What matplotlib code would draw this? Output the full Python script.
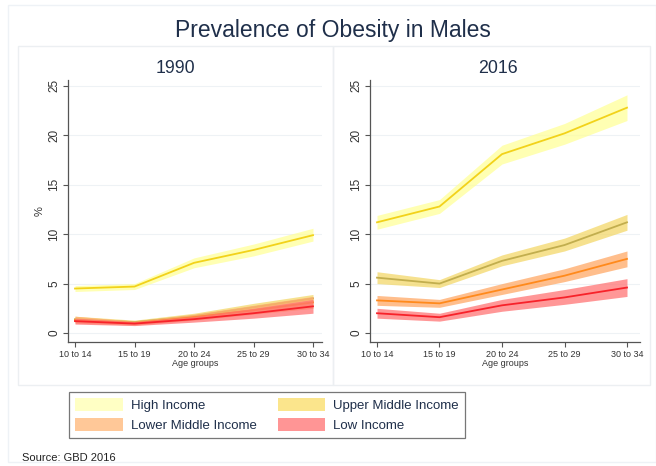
import matplotlib
matplotlib.use("Agg")
import matplotlib.pyplot as plt
from matplotlib.patches import Rectangle, Patch
import numpy as np

plt.rcParams['font.family'] = ['Liberation Sans', 'DejaVu Sans']

age_groups = ["10 to 14", "15 to 19", "20 to 24", "25 to 29", "30 to 34"]
series_names = ["High Income", "Upper Middle Income", "Lower Middle Income", "Low Income"]

# 1990 estimates and uncertainty bounds
high_1990 = [4.5, 4.7, 7.1, 8.4, 9.9]
high_1990_lo = [4.2, 4.4, 6.6, 7.8, 9.3]
high_1990_hi = [4.8, 5.0, 7.6, 9.0, 10.6]
upper_1990 = [1.4, 1.1, 1.7, 2.6, 3.5]
upper_1990_lo = [1.1, 0.9, 1.4, 2.1, 2.9]
upper_1990_hi = [1.7, 1.3, 2.0, 3.0, 3.9]
lower_1990 = [1.3, 1.0, 1.6, 2.3, 3.1]
lower_1990_lo = [1.0, 0.8, 1.3, 1.9, 2.5]
lower_1990_hi = [1.7, 1.2, 1.9, 2.8, 3.7]
low_1990 = [1.2, 0.95, 1.4, 2.0, 2.7]
low_1990_lo = [0.9, 0.75, 1.1, 1.5, 2.0]
low_1990_hi = [1.5, 1.15, 1.7, 2.5, 3.4]

# 2016 estimates and uncertainty bounds
high_2016 = [11.2, 12.8, 18.1, 20.2, 22.8]
high_2016_lo = [10.5, 12.1, 17.1, 19.1, 21.5]
high_2016_hi = [11.9, 13.5, 19.0, 21.2, 24.1]
upper_2016 = [5.6, 5.0, 7.3, 8.9, 11.2]
upper_2016_lo = [5.0, 4.6, 6.8, 8.3, 10.4]
upper_2016_hi = [6.2, 5.4, 7.9, 9.6, 12.0]
lower_2016 = [3.3, 3.0, 4.4, 5.8, 7.5]
lower_2016_lo = [2.8, 2.6, 3.9, 5.2, 6.7]
lower_2016_hi = [3.8, 3.4, 5.0, 6.5, 8.3]
low_2016 = [2.0, 1.6, 2.8, 3.6, 4.6]
low_2016_lo = [1.5, 1.2, 2.2, 2.9, 3.7]
low_2016_hi = [2.5, 2.0, 3.4, 4.4, 5.5]

panels = {
    "1990": [(high_1990, high_1990_lo, high_1990_hi),
             (upper_1990, upper_1990_lo, upper_1990_hi),
             (lower_1990, lower_1990_lo, lower_1990_hi),
             (low_1990, low_1990_lo, low_1990_hi)],
    "2016": [(high_2016, high_2016_lo, high_2016_hi),
             (upper_2016, upper_2016_lo, upper_2016_hi),
             (lower_2016, lower_2016_lo, lower_2016_hi),
             (low_2016, low_2016_lo, low_2016_hi)],
}

line_colors = ["#f2d21a", "#c2ae4e", "#ff8a1c", "#f7222a"]
fill_colors = ["#ffff9a", "#f3d86a", "#ffae70", "#ff7575"]
fill_alpha = [0.75, 0.75, 0.8, 0.75]
legend_colors = ["#ffffc4", "#fbe58c", "#ffc898", "#ff9595"]

fig = plt.figure(figsize=(6.56, 4.66), dpi=100)
W, H = 656, 466

def fx(px):
    return px / W

def fy(py):
    return 1 - py / H

# outer faint frame and panel boxes
fig.patches.append(Rectangle((fx(8), fy(462)), fx(656 - 8), (462 - 5) / H,
                             transform=fig.transFigure, fill=False,
                             edgecolor="#eef2f6", lw=1.0))
for x0, x1 in [(18, 333), (333, 650)]:
    fig.patches.append(Rectangle((fx(x0), fy(385)), (x1 - x0) / W, (385 - 46) / H,
                                 transform=fig.transFigure, fill=False,
                                 edgecolor="#eceff2", lw=1.0))

fig.text(fx(333), fy(30), "Prevalence of Obesity in Males", ha="center", va="center",
         fontsize=16.5, color="#1f2f4a")

axes_px = {"1990": (68, 322, 175, 59.5), "2016": (370, 640, 498, 62.5)}
x = np.arange(len(age_groups))

for name, data in panels.items():
    left, right, cx, ppu = axes_px[name]
    ax = fig.add_axes([fx(left), fy(342), (right - left) / W, (342 - 80) / H])
    for i, (mid, lo, hi) in enumerate(data):
        ax.fill_between(x, lo, hi, color=fill_colors[i], alpha=fill_alpha[i], lw=0, zorder=2 + i)
        ax.plot(x, mid, color=line_colors[i], lw=1.3, zorder=2.5 + i)
    ax.set_xlim(-7 / ppu, -7 / ppu + (right - left) / ppu)
    ax.set_ylim(-0.91, 25.6)
    ax.set_yticks([0, 5, 10, 15, 20, 25])
    ax.set_yticklabels(["0", "5", "10", "15", "20", "25"], rotation=90, va="center",
                       fontsize=8.5, color="#333333")
    ax.set_xticks(x)
    ax.set_xticklabels(age_groups, fontsize=6.5, color="#333333")
    ax.tick_params(axis="both", length=3.5, width=0.8, color="#555555", pad=2)
    ax.grid(axis="y", color="#eef2f5", lw=0.8, zorder=0)
    ax.set_axisbelow(True)
    for s in ["top", "right"]:
        ax.spines[s].set_visible(False)
    for s in ["left", "bottom"]:
        ax.spines[s].set_color("#555555")
        ax.spines[s].set_linewidth(0.9)
    ax.set_xlabel("Age groups", fontsize=6.5, color="#333333", labelpad=0)
    if name == "1990":
        ax.set_ylabel("%", fontsize=8, color="#333333", labelpad=3)
    fig.text(fx(cx), fy(68), name, ha="center", va="center", fontsize=12.8, color="#1f2f4a")

# legend: row-wise order High, Upper Middle / Lower Middle, Low
order = [0, 2, 1, 3]
handles = [Patch(facecolor=legend_colors[i], edgecolor="none") for i in order]
labels = [series_names[i] for i in order]
leg = fig.legend(handles, labels, ncol=2, loc="center",
                 bbox_to_anchor=(fx(267), fy(415)), frameon=True, fancybox=False,
                 fontsize=9.5, handlelength=3.6, handleheight=1.15, columnspacing=1.6,
                 handletextpad=0.6, labelspacing=0.5, borderpad=0.45)
leg.get_frame().set_edgecolor("#555555")
leg.get_frame().set_linewidth(0.9)
for t in leg.get_texts():
    t.set_color("#1f2f4a")

fig.text(fx(22), fy(458), "Source: GBD 2016", ha="left", va="center", fontsize=8, color="#222222")

fig.savefig("out.png", dpi=100, facecolor="white")
